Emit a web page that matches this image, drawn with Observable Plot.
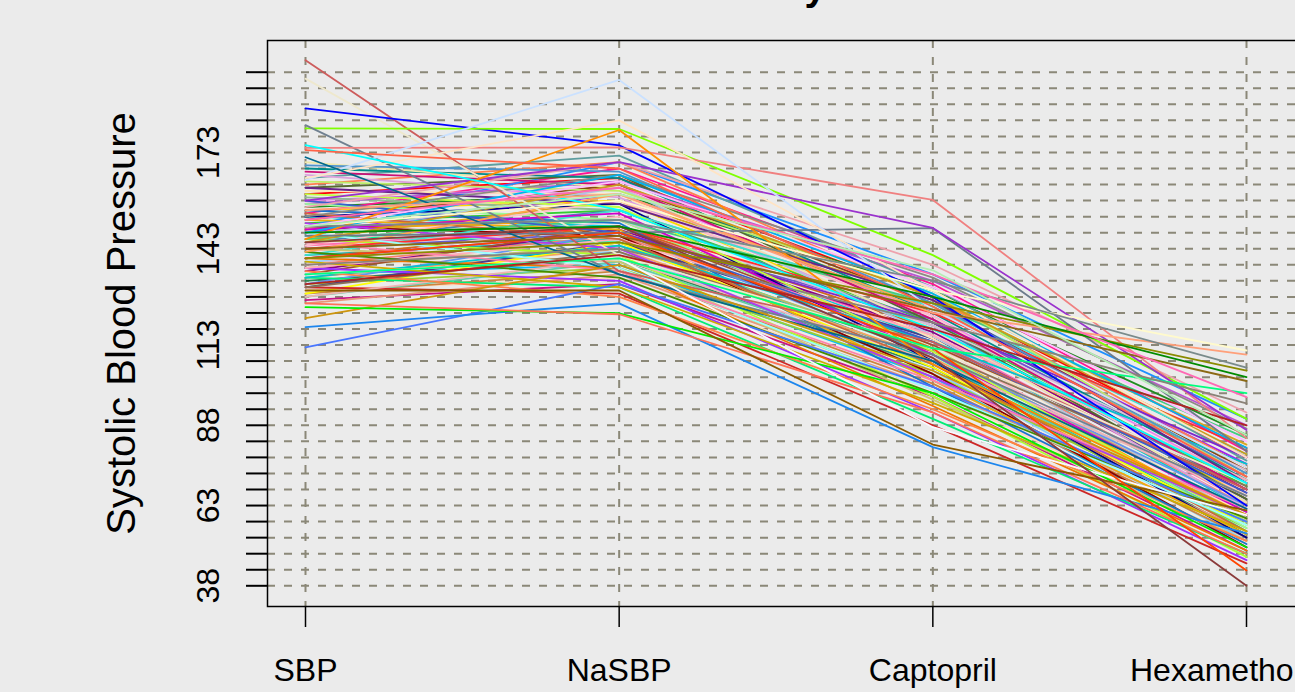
<!DOCTYPE html>
<html>
<head>
<meta charset="utf-8">
<script src="https://cdn.jsdelivr.net/npm/d3@7"></script>
<script src="https://cdn.jsdelivr.net/npm/@observablehq/plot@0.6"></script>
<style>
  html, body { margin: 0; padding: 0; background: #ebebeb; overflow: hidden; }
  #chart { width: 1295px; height: 692px; overflow: hidden; }
  #chart svg { max-width: none !important; width: 1320px; height: 692px; }
</style>
</head>
<body>
<div id="chart"></div>
<script>
// ---- data ----
const categories = ["SBP", "NaSBP", "Captopril", "Hexamethonium"];
const yTicks = [38,43,48,53,58,63,68,73,78,83,88,93,98,103,108,113,118,123,128,133,138,143,148,153,158,163,168,173,178,183,188,193,198];
const yLabels = [38, 63, 88, 113, 143, 173];
const title = "Blood Pressure by Treatment";
const yTitle = "Systolic Blood Pressure";

const sbp = [
  160,158,156,155,154,153,152,151,150,149,148,147,146,145,144,143,142,141,140,139,
  138,137,136,135,134,133,132,131,130,129,128,127,126,162,161,159,157,163,165,166,
  168,170,157,153,150,147,144,141,138,135,132,129,146,143,140,137,134,131,155,152,
  149,146,143,140,137,134,131,128,158,160,154,151,148,145,142,139,136,162,164,167,
  169,156,153,150,148,145,142,
  201.7,196,186.7,180.5,181.5,147,174.4,158,164.4,146,165,175.3,171.5,173.7,112.3,118.6,121.4,124.8,126,130,
  135,145,140,150,155,150,140,148,143,135,152,138,132,150
];
const nasbp = [
  165,162,160,158,168,150,163,155,170,152,160,145,158,155,150,148,153,146,150,142,
  147,144,149,138,143,140,137,145,134,136,139,132,135,166,160,155,164,170,172,159,
  165,162,152,157,147,162,158,155,152,150,148,145,141,139,137,133,131,129,151,149,
  154,152,150,148,146,144,142,140,148,156,146,143,137,136,134,131,128,157,161,163,
  167,170,166,164,166,163,160,
  136,141,175.2,180.3,135,148,174.6,170,195.6,180,183,155,135,168,132,126,138,122.9,122.6,130,
  140,150,148,158,160,152,145,150,147,140,162,143,141,160
];
const captopril = [
  128,122,130,118,132,115,126,120,135,112,124,110,127,119,116,121,113,108,118,105,
  114,111,117,103,109,106,104,115,99,101,107,97,100,120,115,125,133,128,131,119,
  123,118,112,108,104,116,122,125,119,113,110,106,97,96,94,92,90,88,100,102,
  110,126,123,120,116,114,111,108,114,111,107,103,99,102,98,95,93,127,129,121,
  126,138,134,131,129,128,124,
  114,112,128,141,110,149.4,158.2,149.5,124,107,130,118,108,125,100,81.2,105,98,92,82,
  87.4,109,112,130,123,133,126,128,124,112,135,120,118,136.3
];
const hexamethonium = [
  78,70,85,66,80,62,74,69,90,58,76,55,82,68,64,72,60,57,70,52,
  63,61,67,50,59,54,56,65,51,53,58,49,55,65,60,73,88,75,77,62,
  71,64,56,53,50,59,66,79,74,68,63,57,47,52,49,46,48,45,51,54,
  61,84,81,78,71,76,69,66,67,58,55,60,57,62,59,55,52,70,72,68,
  73,92,87,83,81,79,75,
  68,70,63,90,66,80,84,86.5,75,60,78,70,62,72,58,54.3,60,50,48,61.5,
  60,38,42.8,111.3,110,106,105,103,101.8,98,96.8,94.8,88,85
];
const lineColors = [
  "#FF0000","#EE82EE","#228B22","#FFD700","#FF1493","#00CED1","#8B4513","#32CD32","#1E90FF","#FFA500",
  "#A020F0","#00FA9A","#DAA520","#4682B4","#FF69B4","#6A5ACD","#FFB6C1","#20B2AA","#D2691E","#87CEFA",
  "#FA8072","#BDB76B","#8B008B","#00BFFF","#F4A460","#2E8B57","#9ACD32","#483D8B","#FFDAB9","#CD853F",
  "#66CDAA","#C71585","#E9967A","#556B2F","#FFE4B5","#8FBC8F","#BA55D3","#FF7F50","#5F9EA0","#DDA0DD",
  "#008B8B","#EEE8AA","#98FB98","#00008B","#8B0000","#B0C4DE","#FFC0CB","#40E0D0","#D8BFD8","#A0522D",
  "#6495ED","#FFFF00","#ADFF2F","#CDC673","#EE7600","#9B30FF","#00EE76","#CD2626","#1874CD","#EEAD0E",
  "#CD00CD","#43CD80","#FF3030","#7D26CD","#FFAEB9","#00C5CD","#8B7355","#EEB4B4","#3A5FCD","#C0FF3E",
  "#CD6839","#B23AEE","#97FFFF","#FF82AB","#458B00","#CDAD00","#FF8247","#68228B","#BCEE68","#CD1076",
  "#4F94CD","#EEA2AD","#8B8B83","#FFBBFF","#00B2EE","#CD9B1D","#FFA54F",
  "#CD5C5C","#EEE8CD","#0000FF","#7FFF00","#708090","#6C7B8B","#F08080","#9A32CD","#CAE1FF","#FF8C00",
  "#FFE4C4","#00FFFF","#00688B","#FF6347","#4876FF","#1C86EE","#CD950C","#00EE00","#FF7256","#8B5A00",
  "#F8F8FF","#8B3A3A","#FF4500","#FFFACD","#FFA07A","#7A8B8B","#8B8B00","#008B00","#8B6914","#00FF7F",
  "#FF69B4","#8B8378","#B22222","#B4EEB4"
];

// ---- table built from the arrays ----
const rows = sbp.flatMap((_, i) =>
  [sbp[i], nasbp[i], captopril[i], hexamethonium[i]].map((v, j) => ({
    id: i, x: j + 1, v, color: lineColors[i % lineColors.length]
  }))
);
const catIdx = categories.map((c, i) => i + 1);

const font = "'Liberation Sans', Arial, Helvetica, sans-serif";
const grid = "#8b8878";

const plot = Plot.plot({
  width: 1320,
  height: 692,
  marginLeft: 267,
  marginRight: 0,
  marginTop: 40,
  marginBottom: 86,
  style: { background: "#ebebeb", fontFamily: font, color: "black", overflow: "hidden", maxWidth: "none" },
  x: { type: "linear", domain: [1, 4], range: [305, 1246], axis: null },
  y: { domain: [38, 198], range: [585.3, 71.7], axis: null },
  color: { type: "identity" },
  marks: [
    Plot.ruleY(yTicks, { stroke: grid, strokeWidth: 2, strokeDasharray: "8,9" }),
    Plot.ruleX(catIdx, { stroke: grid, strokeWidth: 2, strokeDasharray: "8,9" }),
    Plot.line(rows, { x: "x", y: "v", z: "id", stroke: "color", strokeWidth: 1.8 }),
    Plot.frame({ stroke: "black", strokeWidth: 1.5 }),
    Plot.axisY({ ticks: yTicks, tickSize: 21, tickFormat: () => "", label: null, stroke: "black", strokeWidth: 2, anchor: "left" }),
    Plot.axisX({ ticks: catIdx, tickSize: 21, tickFormat: () => "", label: null, stroke: "black", strokeWidth: 1.5, anchor: "bottom" }),
    Plot.text(yLabels, { y: d => d, text: d => String(d), frameAnchor: "left", dx: -49, rotate: -90,
      textAnchor: "middle", lineAnchor: "bottom", fontSize: 32, fill: "black" }),
    Plot.text(categories, { x: (d, i) => i + 1, text: d => d, frameAnchor: "bottom", dy: 74,
      textAnchor: "middle", lineAnchor: "bottom", fontSize: 32, fill: "black" }),
    Plot.text([yTitle], { text: d => d, frameAnchor: "left", dx: -133, rotate: -90,
      textAnchor: "middle", lineAnchor: "bottom", fontSize: 40, fill: "black" }),
    Plot.text([title], { text: d => d, frameAnchor: "top-left", dx: 214, dy: -41,
      textAnchor: "start", lineAnchor: "bottom", fontSize: 39, fontWeight: "bold", fill: "black" })
  ]
});
document.getElementById("chart").appendChild(plot);
</script>
</body>
</html>
